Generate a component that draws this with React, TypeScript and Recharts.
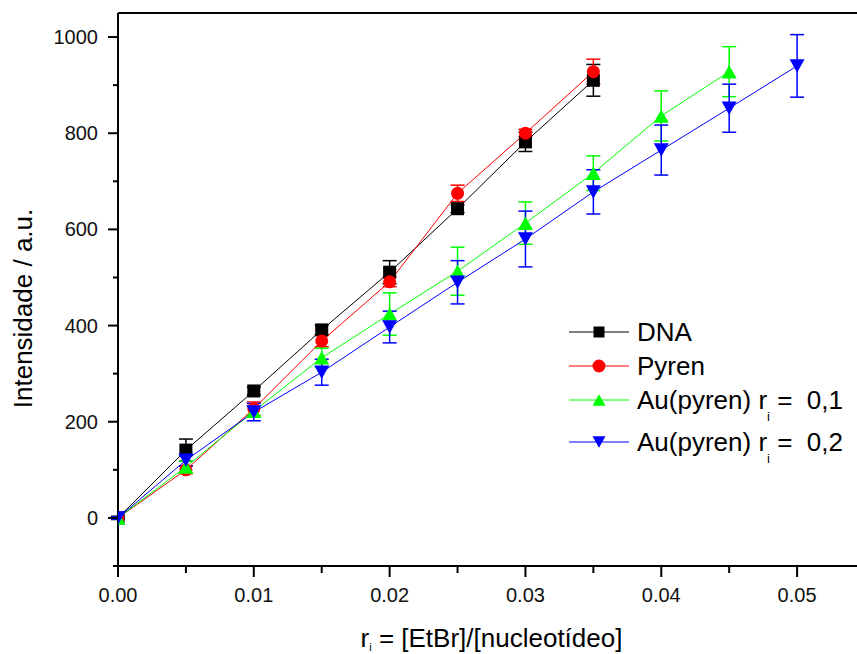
import React from "react"
import { LineChart, Line, XAxis, YAxis, ErrorBar, ReferenceLine, Legend, Label } from "recharts"

// r_i values per series
const rDNA = [0, 0.005, 0.01, 0.015, 0.02, 0.025, 0.03, 0.035]
const rAu1 = [0, 0.005, 0.01, 0.015, 0.02, 0.025, 0.03, 0.035, 0.04, 0.045]
const rAu2 = [0, 0.005, 0.01, 0.015, 0.02, 0.025, 0.03, 0.035, 0.04, 0.045, 0.05]

const dnaI = [0, 141, 264, 391, 511, 643, 782, 910]
const dnaErr = [3, 23, 8, 10, 24, 8, 20, 33]
const pyrenI = [0, 100, 227, 368, 491, 675, 800, 928]
const pyrenErr = [3, 8, 14, 12, 10, 17, 8, 26]
const au1I = [0, 106, 222, 333, 424, 513, 613, 717, 836, 928]
const au1Err = [3, 12, 10, 20, 44, 50, 44, 36, 52, 52]
const au2I = [0, 120, 220, 303, 397, 490, 580, 678, 765, 852, 940]
const au2Err = [3, 12, 18, 27, 33, 45, 58, 46, 52, 50, 65]

const xTicks = [0, 0.005, 0.01, 0.015, 0.02, 0.025, 0.03, 0.035, 0.04, 0.045, 0.05, 0.055]
const yTicks = [-100, 0, 100, 200, 300, 400, 500, 600, 700, 800, 900, 1000]

const FONT = "'Liberation Sans', Arial, sans-serif"

const toRows = (xs: number[], ys: number[], errs: number[]) =>
  xs.map((x, i) => ({ x, y: ys[i], err: errs[i] }))

const dnaData = toRows(rDNA, dnaI, dnaErr)
const pyrenData = toRows(rDNA, pyrenI, pyrenErr)
const au1Data = toRows(rAu1, au1I, au1Err)
const au2Data = toRows(rAu2, au2I, au2Err)

type Shape = "square" | "circle" | "up" | "down"

function Marker({ shape, cx, cy, color, s }: { shape: Shape; cx: number; cy: number; color: string; s: number }) {
  if (shape === "square") return <rect x={cx - s / 2} y={cy - s / 2} width={s} height={s} fill={color} />
  if (shape === "circle") return <circle cx={cx} cy={cy} r={s / 2} fill={color} />
  const h = s * 0.9
  if (shape === "up")
    return <polygon points={`${cx - s / 2},${cy + h / 2} ${cx + s / 2},${cy + h / 2} ${cx},${cy - h / 2}`} fill={color} />
  return <polygon points={`${cx - s / 2},${cy - h / 2} ${cx + s / 2},${cy - h / 2} ${cx},${cy + h / 2}`} fill={color} />
}

const dotFor = (shape: Shape, color: string, s: number) => (props: any) => {
  const { cx, cy, index } = props
  if (cx == null || cy == null) return <g key={`d-${index}`} />
  return (
    <g key={`d-${shape}-${index}`}>
      <Marker shape={shape} cx={cx} cy={cy} color={color} s={s} />
    </g>
  )
}

const legendItems: { label: string; sub?: [string, string]; color: string; shape: Shape }[] = [
  { label: "DNA", color: "#000000", shape: "square" },
  { label: "Pyren", color: "#ff0000", shape: "circle" },
  { label: "Au(pyren) r", sub: ["i", " =  0,1"], color: "#00ff00", shape: "up" },
  { label: "Au(pyren) r", sub: ["i", " =  0,2"], color: "#0000ff", shape: "down" },
]

function LegendBox() {
  return (
    <div style={{ fontFamily: FONT, fontSize: 26, color: "#000" }}>
      {legendItems.map((it, i) => (
        <div key={i} style={{ display: "flex", alignItems: "flex-start", height: it.sub ? 42 : 34 }}>
          <svg width={62} height={34} style={{ flex: "none" }}>
            <line x1={1} x2={61} y1={17} y2={17} stroke={it.color} strokeWidth={1} />
            <Marker shape={it.shape} cx={31} cy={17} color={it.color} s={it.shape === "square" ? 11 : 13} />
          </svg>
          <span style={{ marginLeft: 7, lineHeight: "34px", whiteSpace: "pre" }}>
            {it.label}
            {it.sub && (
              <>
                <span style={{ fontSize: 13, position: "relative", top: 12 }}>{it.sub[0]}</span>
                {it.sub[1]}
              </>
            )}
          </span>
        </div>
      ))}
    </div>
  )
}

function XTick(props: any) {
  const { x, y, payload, index } = props
  const major = index % 2 === 0
  return (
    <g>
      <line x1={x} x2={x} y1={y} y2={y + (major ? 11 : 7)} stroke="#000" strokeWidth={2} />
      {major && (
        <text x={x} y={y + 29} textAnchor="middle" dominantBaseline="central" fontSize={20} fontFamily={FONT} fill="#111">
          {payload.value.toFixed(2)}
        </text>
      )}
    </g>
  )
}

function YTick(props: any) {
  const { x, y, payload } = props
  const major = payload.value % 200 === 0
  return (
    <g>
      <line x1={x} x2={x - (major ? 10 : 5)} y1={y} y2={y} stroke="#000" strokeWidth={2} />
      {major && (
        <text x={x - 20} y={y} textAnchor="end" dominantBaseline="central" fontSize={20} fontFamily={FONT} fill="#111">
          {payload.value}
        </text>
      )}
    </g>
  )
}

function YTitle(props: any) {
  const { viewBox } = props
  const cy = viewBox.y + viewBox.height / 2 + 19
  return (
    <text x={32} y={cy} transform={`rotate(-90, 32, ${cy})`} textAnchor="middle" fontSize={26} fontFamily={FONT} fill="#000">
      Intensidade / a.u.
    </text>
  )
}

function XTitle(props: any) {
  const { viewBox } = props
  const cx = viewBox.x + viewBox.width / 2
  return (
    <text x={cx} y={647} textAnchor="middle" fontSize={26} fontFamily={FONT} fill="#000">
      <tspan>r</tspan>
      <tspan fontSize={11} dy={4}>i</tspan>
      <tspan dy={-4}>{" = [EtBr]/[nucleotídeo]"}</tspan>
    </text>
  )
}

export default function App() {
  return (
    <div style={{ position: "absolute", left: 0, top: 0, width: 857, height: 654, overflow: "hidden", background: "#fff" }}>
      <LineChart width={870} height={654} margin={{ top: 13, right: 5, bottom: 0, left: 0 }}>
        <XAxis
          type="number"
          dataKey="x"
          domain={[0, 0.055]}
          ticks={xTicks}
          interval={0}
          height={88}
          tickSize={0}
          tickMargin={0}
          tickLine={false}
          axisLine={{ stroke: "#000", strokeWidth: 2 }}
          tick={<XTick />}
          allowDataOverflow
        >
          <Label content={<XTitle />} />
        </XAxis>
        <YAxis
          type="number"
          domain={[-100, 1050]}
          ticks={yTicks}
          interval={0}
          width={118}
          tickSize={0}
          tickMargin={0}
          tickLine={false}
          axisLine={{ stroke: "#000", strokeWidth: 2 }}
          tick={<YTick />}
          allowDataOverflow
        >
          <Label content={<YTitle />} />
        </YAxis>
        <ReferenceLine y={1050} stroke="#000" strokeWidth={2} />
        <Legend
          layout="vertical"
          align="center"
          verticalAlign="middle"
          wrapperStyle={{ left: 568, top: 315, width: 300 }}
          content={<LegendBox />}
        />
        <Line data={dnaData} dataKey="y" type="linear" stroke="#000000" strokeWidth={1} dot={dotFor("square", "#000000", 13)} activeDot={false} isAnimationActive={false}>
          <ErrorBar dataKey="err" direction="y" width={7} stroke="#000000" strokeWidth={1.5} />
        </Line>
        <Line data={pyrenData} dataKey="y" type="linear" stroke="#ff0000" strokeWidth={1} dot={dotFor("circle", "#ff0000", 13)} activeDot={false} isAnimationActive={false}>
          <ErrorBar dataKey="err" direction="y" width={7} stroke="#ff0000" strokeWidth={1.5} />
        </Line>
        <Line data={au1Data} dataKey="y" type="linear" stroke="#00ff00" strokeWidth={1} dot={dotFor("up", "#00ff00", 15)} activeDot={false} isAnimationActive={false}>
          <ErrorBar dataKey="err" direction="y" width={7} stroke="#00ff00" strokeWidth={1.5} />
        </Line>
        <Line data={au2Data} dataKey="y" type="linear" stroke="#0000ff" strokeWidth={1} dot={dotFor("down", "#0000ff", 15)} activeDot={false} isAnimationActive={false}>
          <ErrorBar dataKey="err" direction="y" width={7} stroke="#0000ff" strokeWidth={1.5} />
        </Line>
      </LineChart>
    </div>
  )
}
